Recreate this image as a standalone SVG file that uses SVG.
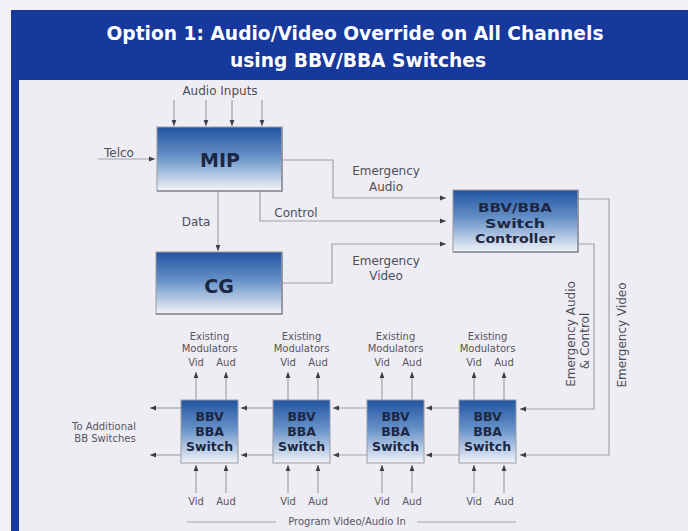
<svg xmlns="http://www.w3.org/2000/svg" width="688" height="531" viewBox="0 0 688 531">
<style>
.ln{fill:none;stroke:#9ea1ab;stroke-width:1.2}
.lab{font-family:"DejaVu Sans",Verdana,sans-serif;font-size:12px;fill:#4d4d58}
.sm{font-family:"DejaVu Sans",Verdana,sans-serif;font-size:10px;fill:#55555f}
.bx{stroke:#9a9ca6;stroke-width:1}
.bt{font-family:"DejaVu Sans",Verdana,sans-serif;font-weight:bold;fill:#1c2743;text-anchor:middle}
.title{font-family:"DejaVu Sans",Verdana,sans-serif;font-weight:bold;font-size:19px;fill:#ffffff;text-anchor:middle}
</style>
<defs>
<linearGradient id="g" x1="0" y1="0" x2="0" y2="1">
<stop offset="0" stop-color="#2254a1"/>
<stop offset="0.45" stop-color="#6590c7"/>
<stop offset="1" stop-color="#f2f4fa"/>
</linearGradient>
<marker id="a" markerWidth="6" markerHeight="6" refX="6" refY="3" orient="auto" markerUnits="userSpaceOnUse">
<path d="M0,0.6 L6,3 L0,5.4 z" fill="#3c3d48"/>
</marker>
</defs>
<rect x="0" y="0" width="688" height="531" fill="#f3f1f6"/>
<rect x="11" y="10" width="677" height="70" fill="#17389c"/>
<rect x="11" y="80" width="8" height="451" fill="#17389c"/>
<rect x="19" y="80" width="669" height="451" fill="#efedf4"/>
<text class="title" x="355" y="40" textLength="497" lengthAdjust="spacingAndGlyphs">Option 1: Audio/Video Override on All Channels</text>
<text class="title" x="358" y="67" textLength="256" lengthAdjust="spacingAndGlyphs">using BBV/BBA Switches</text>

<g id="connectors" marker-end="url(#a)">
<path class="ln" d="M174 100 V126"/>
<path class="ln" d="M206 100 V126"/>
<path class="ln" d="M232 100 V126"/>
<path class="ln" d="M262 100 V126"/>
<path class="ln" d="M98 159 H155"/>
<path class="ln" d="M218 191 V251"/>
<path class="ln" d="M282 160 H333 V198 H446"/>
<path class="ln" d="M260 191 V221 H446"/>
<path class="ln" d="M282 283 H332 V244 H446"/>
<path class="ln" d="M578 244 H594 V409 H520"/>
<path class="ln" d="M578 199 H609 V455 H520"/>
<path class="ln" d="M459 408 H426"/>
<path class="ln" d="M367 408 H333"/>
<path class="ln" d="M273 408 H241"/>
<path class="ln" d="M181 408 H150"/>
<path class="ln" d="M459 455 H426"/>
<path class="ln" d="M367 455 H333"/>
<path class="ln" d="M273 455 H241"/>
<path class="ln" d="M181 455 H150"/>
<path class="ln" d="M196 400 V372"/>
<path class="ln" d="M226 400 V372"/>
<path class="ln" d="M288 400 V372"/>
<path class="ln" d="M318 400 V372"/>
<path class="ln" d="M382 400 V372"/>
<path class="ln" d="M412 400 V372"/>
<path class="ln" d="M474 400 V372"/>
<path class="ln" d="M504 400 V372"/>
<path class="ln" d="M196 493 V465"/>
<path class="ln" d="M226 493 V465"/>
<path class="ln" d="M288 493 V465"/>
<path class="ln" d="M318 493 V465"/>
<path class="ln" d="M382 493 V465"/>
<path class="ln" d="M412 493 V465"/>
<path class="ln" d="M474 493 V465"/>
<path class="ln" d="M504 493 V465"/>
</g>
<g id="program-lines">
<path class="ln" d="M187 522 H276"/>
<path class="ln" d="M417 522 H516"/>
</g>

<g id="labels">
<text class="lab" x="220" y="95" text-anchor="middle">Audio Inputs</text>
<text class="lab" x="104" y="157">Telco</text>
<text class="lab" x="196" y="226" text-anchor="middle">Data</text>
<text class="lab" x="296" y="217" text-anchor="middle">Control</text>
<text class="lab" x="386" y="175" text-anchor="middle">Emergency</text>
<text class="lab" x="386" y="191" text-anchor="middle">Audio</text>
<text class="lab" x="386" y="265" text-anchor="middle">Emergency</text>
<text class="lab" x="386" y="280" text-anchor="middle">Video</text>
<text class="lab" transform="translate(575,334) rotate(-90)" text-anchor="middle" font-size="11.5">Emergency Audio</text>
<text class="lab" transform="translate(589,341) rotate(-90)" text-anchor="middle" font-size="11.5">&amp; Control</text>
<text class="lab" transform="translate(626,335) rotate(-90)" text-anchor="middle" font-size="11.5">Emergency Video</text>
<text class="sm" x="104" y="430" text-anchor="middle" font-size="11">To Additional</text>
<text class="sm" x="105" y="442" text-anchor="middle" font-size="9">BB Switches</text>
<text class="sm" x="347" y="525" text-anchor="middle" font-size="10.5">Program Video/Audio In</text>
</g>

<g id="mip">
<rect class="bx" x="157" y="127" width="125" height="64" fill="url(#g)"/>
<path d="M157 191 H282 V127" fill="none" stroke="#8a8c96" stroke-width="1.5"/>
<text class="bt" x="220" y="167" font-size="19">MIP</text>
</g>
<g id="cg">
<rect class="bx" x="156" y="252" width="126" height="62" fill="url(#g)"/>
<path d="M156 314 H282 V252" fill="none" stroke="#8a8c96" stroke-width="1.5"/>
<text class="bt" x="219" y="293" font-size="19">CG</text>
</g>
<g id="controller">
<rect class="bx" x="453" y="190" width="125" height="62" fill="url(#g)"/>
<path d="M453 252 H578 V190" fill="none" stroke="#8a8c96" stroke-width="1.5"/>
<text class="bt" x="515" y="212" font-size="13" textLength="74" lengthAdjust="spacingAndGlyphs">BBV/BBA</text>
<text class="bt" x="515" y="227.5" font-size="13" textLength="60" lengthAdjust="spacingAndGlyphs">Switch</text>
<text class="bt" x="515" y="243" font-size="13" textLength="80" lengthAdjust="spacingAndGlyphs">Controller</text>
</g>

<g id="switch1">
<rect class="bx" x="181" y="400" width="57" height="63" fill="url(#g)"/>
<text class="bt" x="209.5" y="421" font-size="12.5">BBV</text>
<text class="bt" x="209.5" y="436" font-size="12.5">BBA</text>
<text class="bt" x="209.5" y="451" font-size="12.5">Switch</text>
<text class="sm" x="209.5" y="340" text-anchor="middle">Existing</text>
<text class="sm" x="209.5" y="352" text-anchor="middle">Modulators</text>
<text class="sm" x="196" y="366" text-anchor="middle">Vid</text>
<text class="sm" x="226" y="366" text-anchor="middle">Aud</text>
<text class="sm" x="196" y="505" text-anchor="middle">Vid</text>
<text class="sm" x="226" y="505" text-anchor="middle">Aud</text>
</g>
<g id="switch2">
<rect class="bx" x="273" y="400" width="57" height="63" fill="url(#g)"/>
<text class="bt" x="301.5" y="421" font-size="12.5">BBV</text>
<text class="bt" x="301.5" y="436" font-size="12.5">BBA</text>
<text class="bt" x="301.5" y="451" font-size="12.5">Switch</text>
<text class="sm" x="301.5" y="340" text-anchor="middle">Existing</text>
<text class="sm" x="301.5" y="352" text-anchor="middle">Modulators</text>
<text class="sm" x="288" y="366" text-anchor="middle">Vid</text>
<text class="sm" x="318" y="366" text-anchor="middle">Aud</text>
<text class="sm" x="288" y="505" text-anchor="middle">Vid</text>
<text class="sm" x="318" y="505" text-anchor="middle">Aud</text>
</g>
<g id="switch3">
<rect class="bx" x="367" y="400" width="57" height="63" fill="url(#g)"/>
<text class="bt" x="395.5" y="421" font-size="12.5">BBV</text>
<text class="bt" x="395.5" y="436" font-size="12.5">BBA</text>
<text class="bt" x="395.5" y="451" font-size="12.5">Switch</text>
<text class="sm" x="395.5" y="340" text-anchor="middle">Existing</text>
<text class="sm" x="395.5" y="352" text-anchor="middle">Modulators</text>
<text class="sm" x="382" y="366" text-anchor="middle">Vid</text>
<text class="sm" x="412" y="366" text-anchor="middle">Aud</text>
<text class="sm" x="382" y="505" text-anchor="middle">Vid</text>
<text class="sm" x="412" y="505" text-anchor="middle">Aud</text>
</g>
<g id="switch4">
<rect class="bx" x="459" y="400" width="57" height="63" fill="url(#g)"/>
<text class="bt" x="487.5" y="421" font-size="12.5">BBV</text>
<text class="bt" x="487.5" y="436" font-size="12.5">BBA</text>
<text class="bt" x="487.5" y="451" font-size="12.5">Switch</text>
<text class="sm" x="487.5" y="340" text-anchor="middle">Existing</text>
<text class="sm" x="487.5" y="352" text-anchor="middle">Modulators</text>
<text class="sm" x="474" y="366" text-anchor="middle">Vid</text>
<text class="sm" x="504" y="366" text-anchor="middle">Aud</text>
<text class="sm" x="474" y="505" text-anchor="middle">Vid</text>
<text class="sm" x="504" y="505" text-anchor="middle">Aud</text>
</g>
</svg>
